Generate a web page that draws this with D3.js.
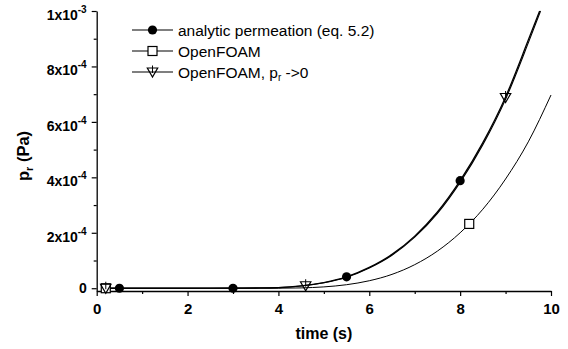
<!DOCTYPE html>
<html>
<head>
<script src="https://cdnjs.cloudflare.com/ajax/libs/d3/7.8.5/d3.min.js"></script>
<style>
body { margin: 0; background: #fff; }
text { font-family: "Liberation Sans", Arial, sans-serif; fill: #000; }
</style>
</head>
<body>
<div id="chart"></div>
<script>
// curves
var timeAnalytic = [0.15, 1, 2, 3, 3.5, 4, 4.5, 5, 5.5, 6, 6.5, 7, 7.5, 8, 8.5, 9, 9.5, 9.75];
var pAnalytic = [0, 0, 0, 0.3e-6, 0.8e-6, 2.3e-6, 8.2e-6, 2.05e-5, 4.1e-5, 7.5e-5, 1.22e-4, 1.88e-4, 2.75e-4, 3.88e-4, 5.25e-4, 6.9e-4, 8.95e-4, 1.0e-3];
var timeZero = [0.15, 1, 2, 3, 3.5, 4, 4.5, 5, 5.5, 6, 6.5, 7, 7.5, 8, 8.5, 9, 9.5, 9.77];
var pZero = [0, 0, 0, 0.2e-6, 0.7e-6, 2.1e-6, 7.8e-6, 1.98e-5, 3.98e-5, 7.3e-5, 1.19e-4, 1.84e-4, 2.7e-4, 3.82e-4, 5.18e-4, 6.82e-4, 8.85e-4, 1.0e-3];
var timeFoam = [0.15, 1, 2, 3, 4, 4.5, 5, 5.5, 6, 6.5, 7, 7.5, 8, 8.5, 9, 9.5, 10];
var pFoam = [0, 0, 0, 0, 1e-7, 1.2e-6, 4.8e-6, 1.27e-5, 2.7e-5, 5.0e-5, 8.5e-5, 1.34e-4, 2.0e-4, 2.85e-4, 3.94e-4, 5.28e-4, 6.97e-4];

// symbols
var circleT = [0.5, 3, 5.5, 8];
var circleP = [0, 0, 4.1e-5, 3.88e-4];
var squareT = [0.2, 8.2];
var squareP = [0, 2.32e-4];
var triT = [0.2, 4.6, 9.0];
var triP = [0, 0.9e-5, 6.88e-4];

var xMajor = [0, 2, 4, 6, 8, 10];
var xMinor = [1, 3, 5, 7, 9];
var yMajor = [0, 2e-4, 4e-4, 6e-4, 8e-4, 1e-3];
var yMinor = [1e-4, 3e-4, 5e-4, 7e-4, 9e-4];
var yTickText = [["0", ""], ["2x10", "-4"], ["4x10", "-4"], ["6x10", "-4"], ["8x10", "-4"], ["1x10", "-3"]];

var legendNames = ["analytic permeation (eq. 5.2)", "OpenFOAM", "OpenFOAM, p"];

var width = 568, height = 349;
var svg = d3.select("#chart").append("svg")
    .attr("width", width)
    .attr("height", height);

var x = d3.scaleLinear().domain([0, 10]).range([96.7, 551]);
var y = d3.scaleLinear().domain([-1e-5, 1e-3]).range([291, 11]);

function pairs(ts, ps) {
    return ts.map(function(t, i) { return [t, ps[i]]; });
}

var line = d3.line()
    .x(function(d) { return x(d[0]); })
    .y(function(d) { return y(d[1]); })
    .curve(d3.curveMonotoneX);

// axes
var xAxis = svg.append("g").attr("transform", "translate(0," + y.range()[0] + ")");
xAxis.call(d3.axisBottom(x).tickValues(xMajor).tickSize(5).tickSizeOuter(0).tickFormat(d3.format("d")));
xAxis.append("g").call(d3.axisBottom(x).tickValues(xMinor).tickSize(3).tickFormat(""))
    .select(".domain").remove();
xAxis.selectAll("path.domain").attr("stroke-width", 1.3);
xAxis.selectAll("line").attr("stroke-width", 1.2);
xAxis.selectAll(".tick text")
    .attr("y", 23).attr("dy", 0)
    .style("font-size", "15px").style("font-weight", "bold");

var yAxis = svg.append("g").attr("transform", "translate(" + x.range()[0] + ",0)");
yAxis.call(d3.axisLeft(y).tickValues(yMajor).tickSize(5).tickSizeOuter(0).tickFormat(""));
yAxis.append("g").call(d3.axisLeft(y).tickValues(yMinor).tickSize(3).tickFormat(""))
    .select(".domain").remove();
yAxis.selectAll("path.domain").attr("stroke-width", 1.3);
yAxis.selectAll("line").attr("stroke-width", 1.2);

yMajor.forEach(function(v, i) {
    var lab = yTickText[i];
    var t = yAxis.append("text")
        .attr("x", -10)
        .attr("y", y(v) + (lab[1] ? 9 : 5))
        .attr("text-anchor", "end")
        .style("font-size", "14px").style("font-weight", "bold");
    t.append("tspan").text(lab[0]);
    if (lab[1]) {
        t.append("tspan").attr("dy", -7).style("font-size", "10px").text(lab[1]);
    }
});

// axis titles
svg.append("text")
    .attr("x", (x.range()[0] + x.range()[1]) / 2)
    .attr("y", 339)
    .attr("text-anchor", "middle")
    .style("font-size", "16px").style("font-weight", "bold")
    .text("time (s)");

var yl = svg.append("text")
    .attr("transform", "translate(29,156) rotate(-90)")
    .attr("text-anchor", "middle")
    .style("font-size", "16.5px").style("font-weight", "bold");
yl.append("tspan").text("p");
yl.append("tspan").attr("dy", 4).style("font-size", "11px").text("r");
yl.append("tspan").attr("dy", -4).text(" (Pa)");

// curves
svg.append("path").datum(pairs(timeFoam, pFoam))
    .attr("d", line).attr("fill", "none").attr("stroke", "#000").attr("stroke-width", 1);
svg.append("path").datum(pairs(timeZero, pZero))
    .attr("d", line).attr("fill", "none").attr("stroke", "#000").attr("stroke-width", 1.1);
svg.append("path").datum(pairs(timeAnalytic, pAnalytic))
    .attr("d", line).attr("fill", "none").attr("stroke", "#000").attr("stroke-width", 1.3);

// marker drawing
function drawCircle(g, cx, cy) {
    g.append("circle").attr("cx", cx).attr("cy", cy).attr("r", 4.6).attr("fill", "#000");
}
function drawSquare(g, cx, cy) {
    g.append("rect").attr("x", cx - 4.5).attr("y", cy - 4.5).attr("width", 9).attr("height", 9)
        .attr("fill", "#fff").attr("stroke", "#000").attr("stroke-width", 1.2);
}
function drawTri(g, cx, cy) {
    g.append("path")
        .attr("d", "M" + (cx - 5.2) + "," + (cy - 4) + "L" + (cx + 5.2) + "," + (cy - 4) + "L" + cx + "," + (cy + 5) + "Z")
        .attr("fill", "none").attr("stroke", "#000").attr("stroke-width", 1.2);
    g.append("line").attr("x1", cx).attr("x2", cx).attr("y1", cy - 6.5).attr("y2", cy + 1)
        .attr("stroke", "#000").attr("stroke-width", 1);
}

var marks = svg.append("g");
squareT.forEach(function(t, i) { drawSquare(marks, x(t), y(squareP[i])); });
triT.forEach(function(t, i) { drawTri(marks, x(t), y(triP[i])); });
circleT.forEach(function(t, i) { drawCircle(marks, x(t), y(circleP[i])); });

// legend
var legend = svg.append("g");
var rows = [30, 51, 72];
var drawers = [drawCircle, drawSquare, drawTri];
rows.forEach(function(ry, i) {
    legend.append("line").attr("x1", 132).attr("x2", 173).attr("y1", ry).attr("y2", ry)
        .attr("stroke", "#000").attr("stroke-width", 1.1);
    drawers[i](legend, 152.5, ry);
    var t = legend.append("text").attr("x", 178).attr("y", ry + 5.5)
        .style("font-size", "15.5px").text(legendNames[i]);
    if (i == 2) {
        t.append("tspan").attr("dy", 3).style("font-size", "10px").text("r");
        t.append("tspan").attr("dy", -3).text(" ->0");
    }
});
</script>
</body>
</html>
